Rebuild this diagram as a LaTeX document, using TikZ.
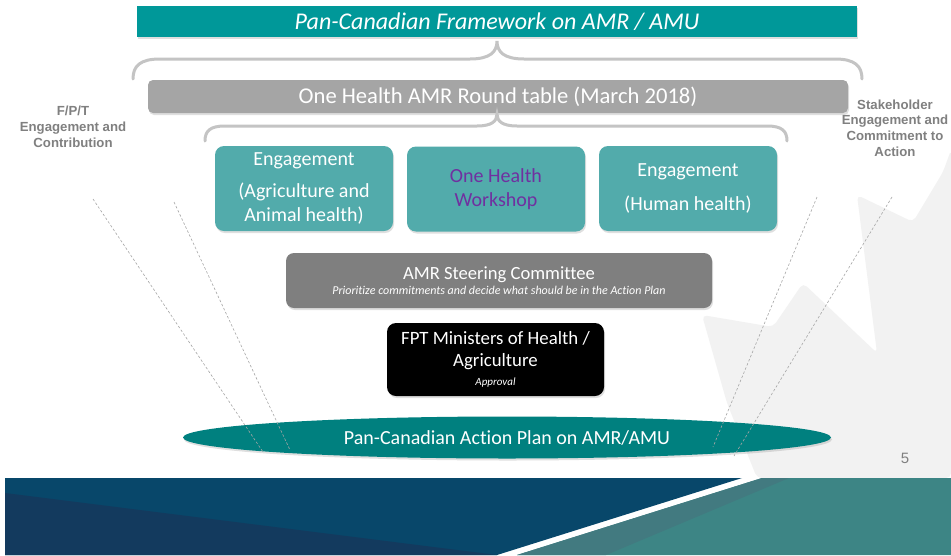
\documentclass[tikz,border=0pt]{standalone}
\usepackage{fontspec}
\setmainfont{Carlito}[Ligatures=NoCommon]
\newfontfamily\arialf{Liberation Sans}
\usetikzlibrary{shapes.geometric,shadows}
\definecolor{titleteal}{HTML}{009899}
\definecolor{rtgray}{HTML}{A5A5A5}
\definecolor{boxteal}{HTML}{52ABAB}
\definecolor{stgray}{HTML}{7F7F7F}
\definecolor{elteal}{HTML}{00807F}
\definecolor{bracegray}{HTML}{C4C4C4}
\definecolor{labgray}{HTML}{808080}
\definecolor{wmgray}{HTML}{F2F2F2}
\definecolor{bandblue}{HTML}{08476A}
\definecolor{bandnavy}{HTML}{133A5E}
\definecolor{bandteal}{HTML}{3D8585}
\definecolor{bandwedge}{HTML}{427A80}
\definecolor{wspurple}{HTML}{7030A0}
\tikzset{
  shad/.style={drop shadow={opacity=0.25,shadow xshift=1pt,shadow yshift=-2pt}},
  rbox/.style={rounded corners=#1, inner sep=0pt, align=center, text=white, shad},
  engbox/.style={rbox=9pt, fill=boxteal, minimum width=178pt, minimum height=85pt,
    font=\fontsize{20}{24.5}\selectfont},
  sidelabel/.style={align=center, text=labgray, font=\arialf\bfseries\fontsize{13.2}{15.8}\selectfont},
  brace/.style={draw=bracegray, line width=3pt, line cap=round},
  dline/.style={draw=gray!70, line width=0.6pt, dash pattern=on 2.5pt off 2pt},
}
\begin{document}
\begin{tikzpicture}[x=1pt,y=-1pt]
\useasboundingbox (0,0) rectangle (951,555);
\fill[white] (0,0) rectangle (951,555);
% watermark
\fill[wmgray, rounded corners=5pt] (951,150) -- (943,172) -- (913,222) -- (857,195) -- (877,353) -- (803,283) -- (773,327) -- (702,315) -- (727,403) -- (757,478) -- (951,478) -- cycle;
% bottom band
\fill[bandblue] (5,478) -- (742,478) -- (497,555) -- (5,555) -- cycle;
\fill[bandnavy] (5,493) -- (497,555) -- (5,555) -- cycle;
\fill[bandteal] (762,478) -- (951,478) -- (951,555) -- (517,555) -- cycle;
\fill[bandwedge] (762,478) -- (789,478) -- (606,555) -- (517,555) -- cycle;
% title
\node[rbox=0pt, fill=titleteal, minimum width=720pt, minimum height=31pt,
  font=\itshape\fontsize{24}{28}\selectfont] (title) at (497,21.5) {Pan-Canadian Framework on AMR / AMU};
% brace 1
\draw[brace] (133,79) .. controls (133,66) and (140,59) .. (160,59) -- (470,59)
  .. controls (490,59) and (497,52) .. (497,41) .. controls (497,52) and (504,59) .. (524,59)
  -- (835,59) .. controls (855,59) and (862,66) .. (862,79);
% round table
\node[rbox=5pt, fill=rtgray, minimum width=700pt, minimum height=33pt,
  font=\fontsize{22.6}{26}\selectfont] (rt) at (498,96.5) {One Health AMR Round table (March 2018)};
% brace 2
\draw[brace] (205,141) .. controls (205,131) and (210,126) .. (225,126) -- (477,126)
  .. controls (492,126) and (497,121) .. (497,114) .. controls (497,121) and (502,126) .. (517,126)
  -- (767,126) .. controls (782,126) and (787,131) .. (787,141);
% engagement boxes
\node[engbox] (eng1) at (304,188.5) {Engagement\\[7pt](Agriculture and\\Animal health)};
\node[engbox, text=wspurple] (ws) at (496,189) {One Health\\Workshop};
\node[engbox] (eng2) at (688,188.5) {Engagement\\[10pt](Human health)};
% steering committee
\node[rbox=8pt, fill=stgray, minimum width=426pt, minimum height=55pt] (sc) at (499,280.5)
  {{\fontsize{18.6}{21}\selectfont AMR Steering Committee}\\[3pt]
   {\itshape\fontsize{12}{14}\selectfont Prioritize commitments and decide what should be in the Action Plan}};
% FPT
\node[rbox=9pt, fill=black, minimum width=217pt, minimum height=73pt,
  font=\fontsize{18.8}{22}\selectfont] (fpt) at (495.5,359.5)
  {FPT Ministers of Health /\\Agriculture\\[-3pt]
   {\itshape\fontsize{11}{12}\selectfont Approval}};
% ellipse
\node[ellipse, fill=elteal, minimum width=648pt, minimum height=42pt, inner sep=0pt, text=white,
  font=\fontsize{20}{23}\selectfont, shad] (plan) at (507,437.5) {Pan-Canadian Action Plan on AMR/AMU};
% dashed lines
\coordinate (l1a) at (93,199); \coordinate (l1b) at (263,452);
\coordinate (l2a) at (174,202); \coordinate (l2b) at (290,450);
\coordinate (r1a) at (817,197); \coordinate (r1b) at (713,447);
\coordinate (r2a) at (892,197); \coordinate (r2b) at (734,456);
\draw[dline] (l1a) -- (l1b);
\draw[dline] (l2a) -- (l2b);
\draw[dline] (r1a) -- (r1b);
\draw[dline] (r2a) -- (r2b);
% side labels
\node[sidelabel] (fptlab) at (73,127) {F/P/T\\Engagement and\\Contribution};
\node[sidelabel] (stlab) at (895,128) {Stakeholder\\Engagement and\\Commitment to\\Action};
% page number
\node[text=labgray, font=\arialf\fontsize{15}{18}\selectfont] (pnum) at (905,458) {5};
\end{tikzpicture}
\end{document}
